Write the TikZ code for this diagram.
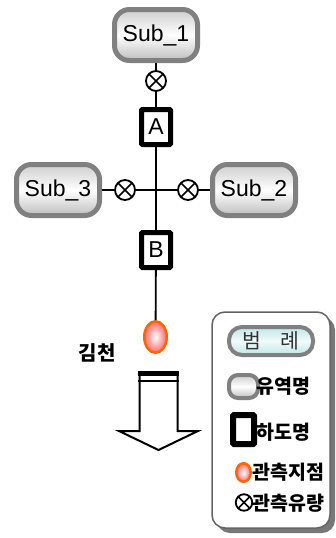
\documentclass[tikz,border=0pt]{standalone}
\usepackage{fontspec}
\setmainfont{Liberation Sans}
\newfontfamily\kr{Noto Sans CJK KR}
\usetikzlibrary{shapes.geometric}
\definecolor{subborder}{RGB}{128,128,128}
\definecolor{subgradtop}{RGB}{205,205,205}
\definecolor{subgradbot}{RGB}{190,190,190}
\definecolor{gaugeorange}{RGB}{255,102,0}
\definecolor{gaugepink}{RGB}{255,105,105}
\definecolor{legcyan}{RGB}{190,230,232}
\definecolor{legborder}{RGB}{100,100,100}
\definecolor{legshadow}{RGB}{120,120,120}
\tikzset{
  subbox/.style={rounded corners=15pt, draw=subborder, line width=5pt,
    top color=subgradtop, bottom color=subgradbot, middle color=white,
    minimum width=83pt, minimum height=51pt, inner sep=0pt,
    font=\fontsize{23}{25}\selectfont},
  rivbox/.style={draw=black, line width=5pt, fill=white, rounded corners=1pt,
    minimum width=29pt, minimum height=35pt, inner sep=0pt,
    font=\fontsize{23}{25}\selectfont},
  obsx/.style={circle, draw=black, line width=1.8pt, fill=white,
    minimum size=#1, inner sep=0pt,
    path picture={\draw[line width=1.6pt]
      (path picture bounding box.north west) -- (path picture bounding box.south east)
      (path picture bounding box.north east) -- (path picture bounding box.south west);}},
  obsx/.default=20pt,
  gauge/.style={ellipse, draw=gaugeorange, line width=2.5pt,
    inner color=white, outer color=gaugepink, inner sep=0pt},
  conn/.style={line width=1.8pt, draw=black},
  krtxt/.style={font=\kr\bfseries\fontsize{19.5}{21}\selectfont, inner sep=0pt, anchor=west},
}
\begin{document}
\begin{tikzpicture}[x=1pt,y=-1pt]
\useasboundingbox (0,0) rectangle (336,538);

% main network nodes
\node[subbox] (s1) at (156,35) {Sub\_1};
\node[subbox] (s3) at (58,190) {Sub\_3};
\node[subbox] (s2) at (254,190) {Sub\_2};
\node[obsx] (ox1) at (156,81) {};
\node[obsx] (ox3) at (125,190) {};
\node[obsx] (ox2) at (188,190) {};
\node[rivbox] (A) at (156,127) {A};
\node[rivbox] (B) at (156,250) {B};
\node[gauge, minimum width=22.5pt, minimum height=31.5pt] (g) at (155.5,337) {};
\coordinate (c) at (156,190);

% connectors
\draw[conn] (s1) -- (ox1);
\draw[conn] (ox1) -- (A);
\draw[conn] (A) -- (B);
\draw[conn] (B) -- (g);
\draw[conn] (s3) -- (ox3);
\draw[conn] (ox3) -- (c);
\draw[conn] (c) -- (ox2);
\draw[conn] (ox2) -- (s2);

% station name
\node[font=\kr\bfseries\fontsize{20}{22}\selectfont, inner sep=0pt] (gname) at (97,353) {김천};

% outflow arrow
\fill (138,370.5) rectangle (179,376);
\draw[line width=2pt] (138,380.5) -- (179,380.5);
\draw[line width=2pt, line join=miter] (139.5,376) -- (139.5,431) -- (119,431) -- (158.5,450) -- (198,431) -- (177.5,431) -- (177.5,376);

% legend
\fill[legshadow, rounded corners=13pt] (217,317) rectangle (335,533);
\draw[legborder, fill=white, line width=1.5pt, rounded corners=13pt] (212,312) rectangle (330,528);
\node[rounded corners=13pt, draw=subborder, line width=4pt,
  top color=legcyan, bottom color=legcyan, middle color=white!80!legcyan,
  minimum width=84pt, minimum height=28pt, inner sep=0pt,
  font=\kr\fontsize{20.5}{22}\selectfont, text=black!80] (leg) at (271,341) {범\hspace{20pt}례};

\node[subbox, rounded corners=9pt, line width=4pt, minimum width=29pt, minimum height=23pt] (l1) at (243.5,386.5) {};
\node[krtxt] (t1) at (256,386.5) {유역명};
\node[rivbox, line width=6pt, minimum width=21pt, minimum height=29pt] (l2) at (243.5,429.5) {};
\node[krtxt] (t2) at (256,432) {하도명};
\node[gauge, minimum width=14.5pt, minimum height=18.5pt, line width=2.5pt] (l3) at (243.5,472.5) {};
\node[krtxt] (t3) at (252,472.5) {관측지점};
\node[obsx=16.5pt] (l4) at (244,502.5) {};
\node[krtxt] (t4) at (252.5,503) {관측유량};
\end{tikzpicture}
\end{document}
